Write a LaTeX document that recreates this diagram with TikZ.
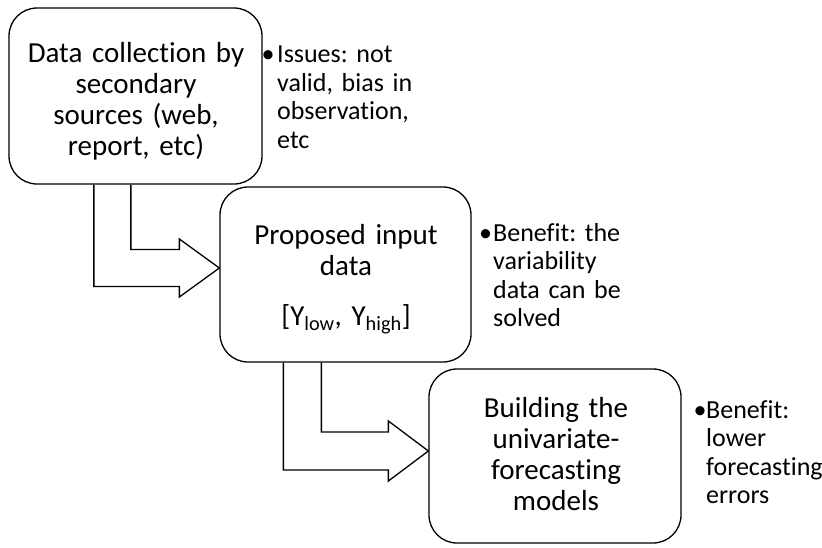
\documentclass[tikz,border=0pt]{standalone}
\usepackage{fontspec}
\setmainfont{Carlito}[Ligatures=NoCommon]
\usetikzlibrary{calc}
\frenchspacing
\begin{document}
\begin{tikzpicture}[x=1pt,y=-1pt,
  box/.style={draw, line width=1.3pt, rounded corners=28pt, inner sep=0pt},
  conn/.style={draw, line width=1.3pt, line join=miter},
  boxtext/.style={font=\fontsize{29}{31}\selectfont, text width=250pt, align=center, inner sep=0pt, anchor=base},
  note/.style={font=\fontsize{26}{28.6}\selectfont, text width=200pt, align=left, inner sep=0pt, anchor=base west},
  dot/.style={font=\fontsize{26}{28.6}\selectfont, inner sep=0pt, anchor=base}]
\useasboundingbox (0,0) rectangle (822,547);
% boxes
\node[box, minimum width=253pt, minimum height=176pt] (b1) at (135.5,96) {};
\node[box, minimum width=251pt, minimum height=175pt] (b2) at (345.5,274.5) {};
\node[box, minimum width=252pt, minimum height=174pt] (b3) at (555,456) {};
% box texts
\node[boxtext] (t1) at (136,62.7) {Data collection by\\secondary\\sources (web,\\report, etc)};
\node[boxtext] (t2) at (346,244) {Proposed input\\data};
\node[boxtext] (t2b) at (346,325) {[Y\textsubscript{low}, Y\textsubscript{high}]};
\node[boxtext] (t3) at (556,417.5) {Building the\\univariate-\\forecasting\\models};
% notes
\node[dot] (d1) at (268,62.7) {•};
\node[note] (n1) at (277,62.7) {Issues: not\\valid, bias in\\observation,\\etc};
\node[dot] (d2) at (485.5,241) {•};
\node[note] (n2) at (493,241) {Benefit: the\\variability\\data can be\\solved};
\node[dot] (d3) at (700,418) {•};
\node[note] (n3) at (706,418) {Benefit:\\lower\\forecasting\\errors};
% block arrows
\coordinate (a1o) at ($(b1.south west)+(85.5,0)$);
\coordinate (a1i) at ($(b1.south west)+(122.5,0)$);
\coordinate (a1t) at ($(b2.west)+(0,-6.5)$);
\draw[conn] (a1o) |- ($(a1t)+(-40,18.5)$) -- ($(a1t)+(-40,29)$) -- (a1t)
  -- ($(a1t)+(-40,-29)$) -- ($(a1t)+(-40,-18.5)$) -| (a1i);
\coordinate (a2o) at ($(b2.south west)+(64,0)$);
\coordinate (a2i) at ($(b2.south west)+(102,0)$);
\coordinate (a2t) at ($(b3.west)+(0,-5)$);
\draw[conn] (a2o) |- ($(a2t)+(-40,19)$) -- ($(a2t)+(-40,30)$) -- (a2t)
  -- ($(a2t)+(-40,-30)$) -- ($(a2t)+(-40,-19)$) -| (a2i);
\end{tikzpicture}
\end{document}
